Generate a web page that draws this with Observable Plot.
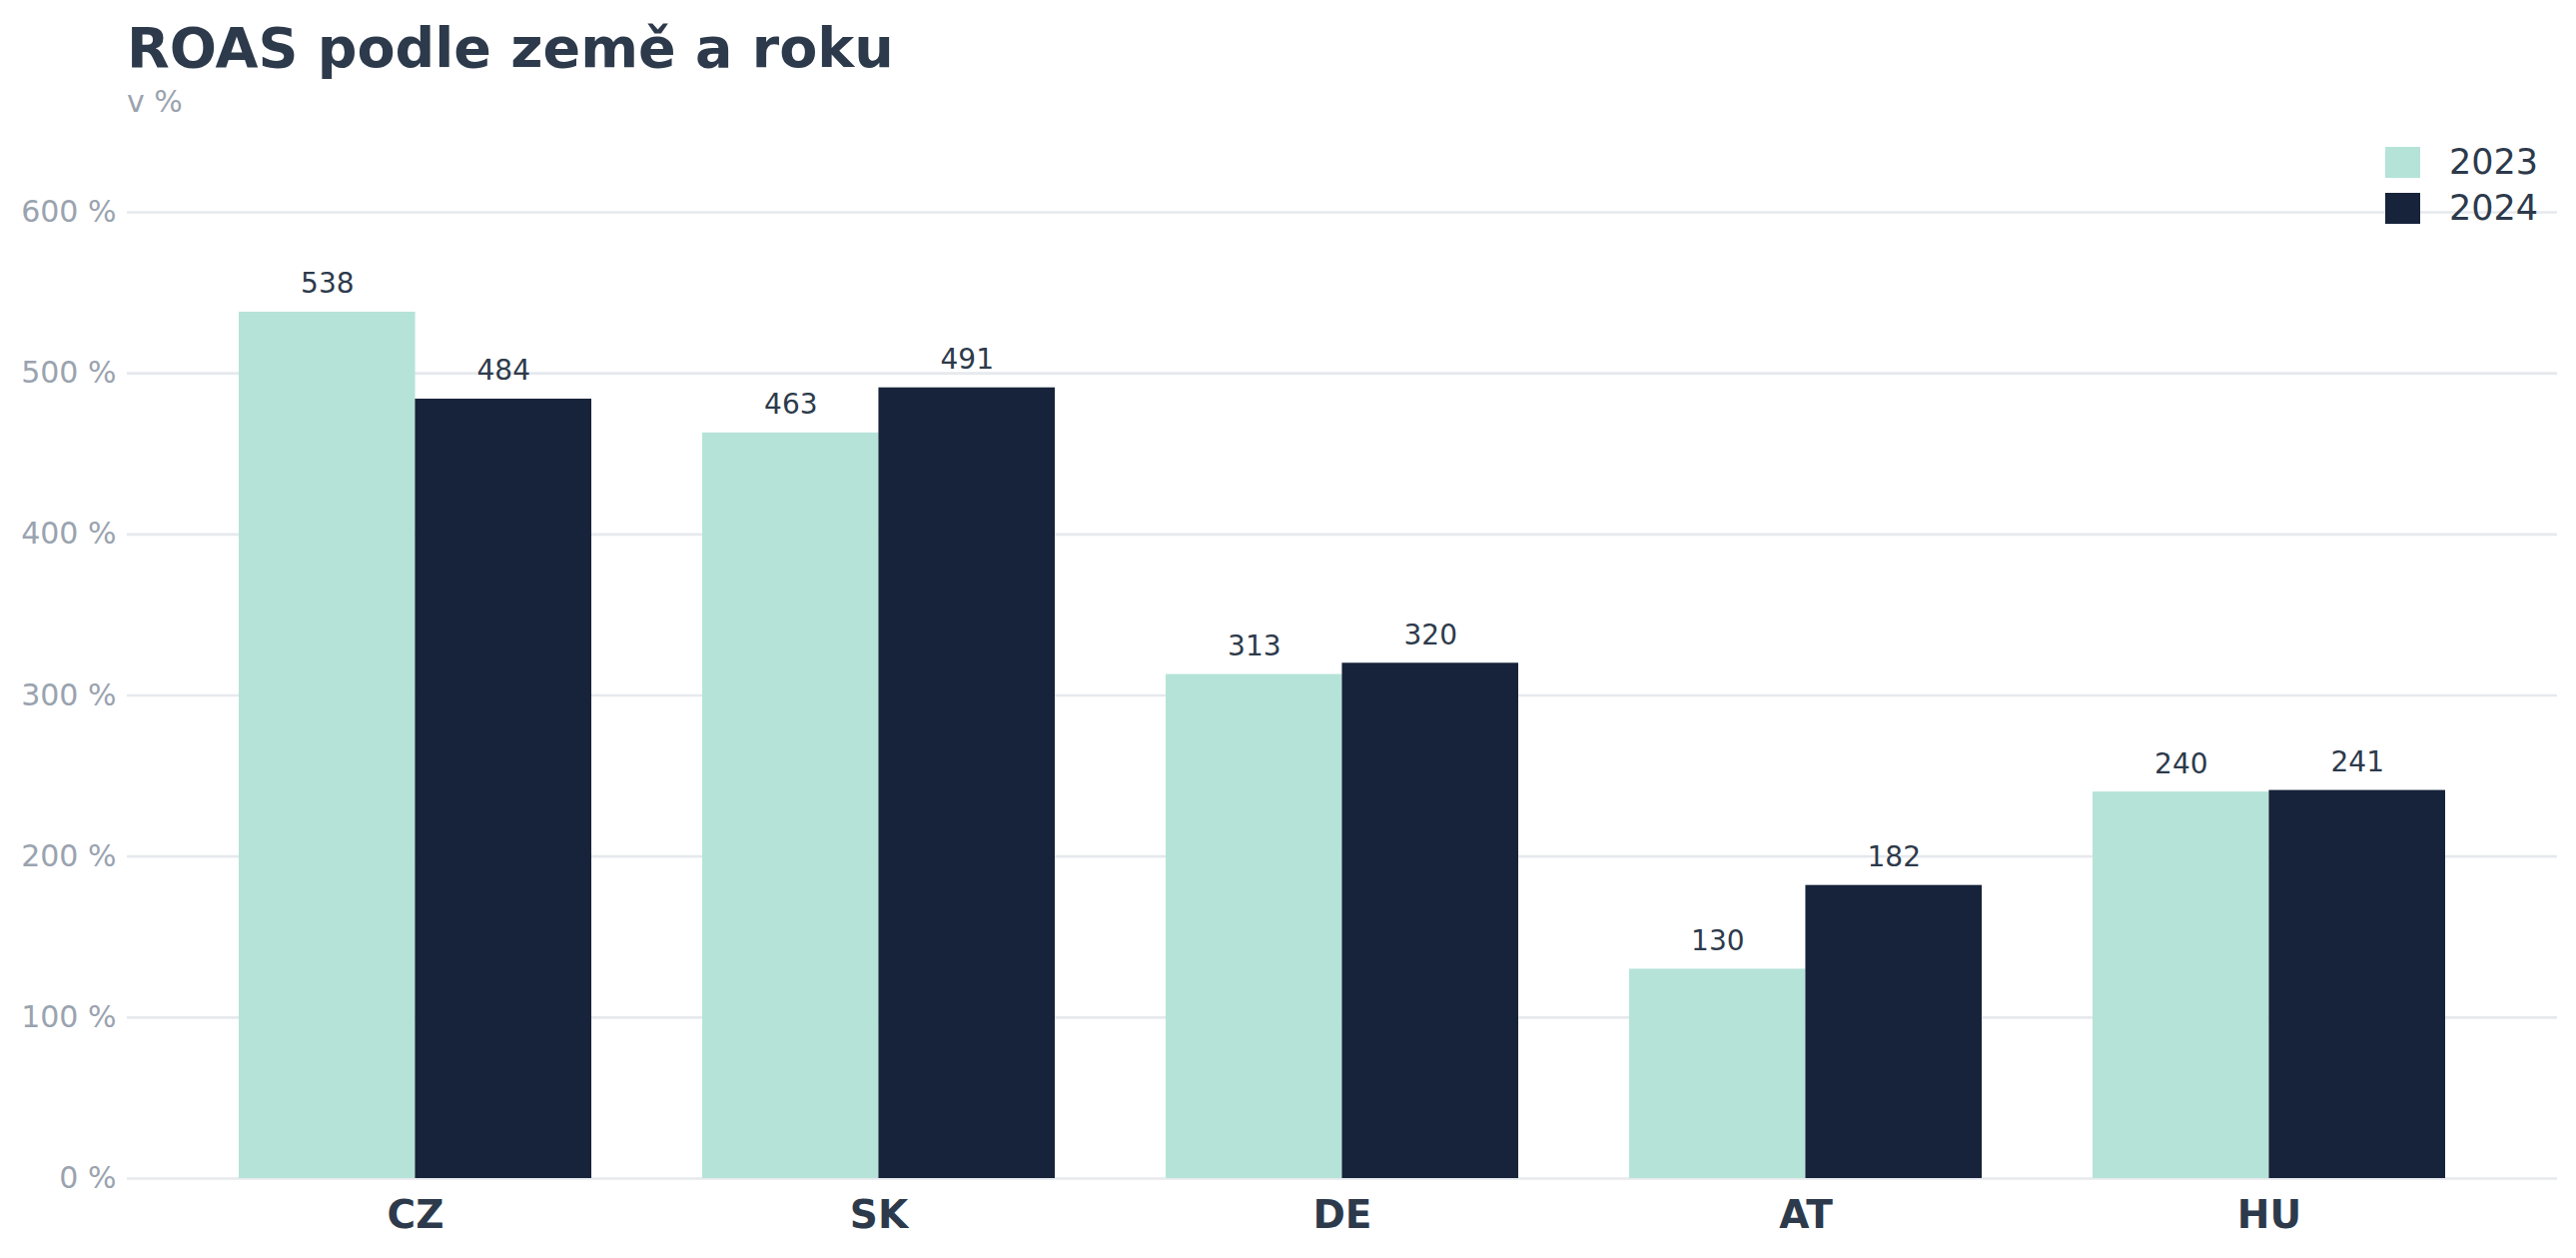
<!DOCTYPE html>
<html>
<head>
<meta charset="utf-8">
<script src="https://cdn.jsdelivr.net/npm/d3@7"></script>
<script src="https://cdn.jsdelivr.net/npm/@observablehq/plot@0.6"></script>
<style>
  html, body { margin: 0; padding: 0; background: #ffffff; }
  #wrap { position: relative; width: 2579px; height: 1259px; font-family: "DejaVu Sans", sans-serif; overflow: hidden; }
  #title { position: absolute; left: 127px; top: 15px; font-size: 55.5px; font-weight: bold; color: #2d3a4b; white-space: nowrap; }
  #subtitle { position: absolute; left: 127px; top: 84px; font-size: 30px; color: #9aa3af; white-space: nowrap; }
  #chart { position: absolute; left: 0; top: 130px; }
  #legend { position: absolute; left: 2388px; top: 147px; }
  .item { position: relative; height: 46px; }
  .sw { position: absolute; left: 0; top: 0; width: 35px; height: 31px; }
  .lab { position: absolute; left: 64px; top: -5px; font-size: 35px; color: #2d3a4b; white-space: nowrap; }
</style>
</head>
<body>
<div id="wrap">
  <div id="title">ROAS podle země a roku</div>
  <div id="subtitle">v %</div>
  <div id="chart"></div>
  <div id="legend"></div>
</div>
<script>
const countries = ["CZ", "SK", "DE", "AT", "HU"];
const years = ["2023", "2024"];
const values2023 = [538, 463, 313, 130, 240];
const values2024 = [484, 491, 320, 182, 241];
const yTicks = [0, 100, 200, 300, 400, 500, 600];
const colors = ["#b5e3d8", "#17233a"];

const rows2023 = countries.map((c, i) => ({country: c, year: years[0], value: values2023[i]}));
const rows2024 = countries.map((c, i) => ({country: c, year: years[1], value: values2024[i]}));

const W = 2579, ML = 127, MR = 19, PAD = 0.24;
// band width of each country group, from the same band scale definition Plot uses
const bw = d3.scaleBand(countries, [ML, W - MR]).padding(PAD).bandwidth();
const half = bw / 2;

const chart = Plot.plot({
  width: W,
  height: 1129,
  marginTop: 82,
  marginBottom: 80,
  marginLeft: ML,
  marginRight: MR,
  style: {fontFamily: "DejaVu Sans, sans-serif", background: "#ffffff"},
  x: {domain: countries, padding: PAD, label: null},
  y: {domain: [0, 600], label: null},
  marks: [
    Plot.ruleY(yTicks, {stroke: "#e6e9ed", strokeWidth: 2.6}),
    Plot.axisY(yTicks, {
      tickSize: 0, tickPadding: 11, fontSize: 30, fill: "#9aa3af",
      tickFormat: d => d + " %", label: null
    }),
    Plot.barY(rows2023, {x: "country", y: "value", fill: colors[0], insetRight: half}),
    Plot.barY(rows2024, {x: "country", y: "value", fill: colors[1], insetLeft: half}),
    Plot.text(rows2023, {
      x: "country", y: "value", text: d => String(d.value), dx: -half / 2,
      lineAnchor: "bottom", dy: -19, fontSize: 28, fill: "#2d3a4b"
    }),
    Plot.text(rows2024, {
      x: "country", y: "value", text: d => String(d.value), dx: half / 2,
      lineAnchor: "bottom", dy: -19, fontSize: 28, fill: "#2d3a4b"
    }),
    Plot.axisX({
      tickSize: 0, tickPadding: 22, fontSize: 39,
      fontWeight: "bold", fill: "#2d3a4b", label: null
    })
  ]
});
document.getElementById("chart").appendChild(chart);

const legend = document.getElementById("legend");
years.forEach((y, i) => {
  const item = document.createElement("div");
  item.className = "item";
  item.innerHTML = `<div class="sw" style="background:${colors[i]}"></div><div class="lab">${y}</div>`;
  legend.appendChild(item);
});
</script>
</body>
</html>
